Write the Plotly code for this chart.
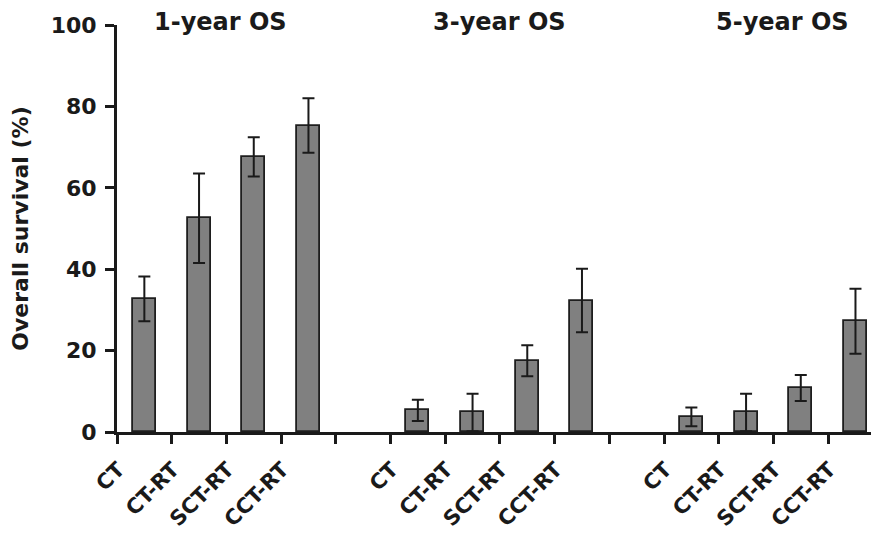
import plotly.graph_objects as go

groups = ["1-year OS", "3-year OS", "5-year OS"]
treatments = ["CT", "CT-RT", "SCT-RT", "CCT-RT"]
os1 = [32.7, 52.5, 67.6, 75.3]
err1 = [5.5, 11.0, 4.8, 6.7]
os3 = [5.3, 4.8, 17.5, 32.3]
err3 = [2.6, 4.6, 3.8, 7.8]
os5 = [3.7, 4.8, 10.8, 27.2]
err5 = [2.3, 4.6, 3.2, 8.0]
y_ticks = [0, 20, 40, 60, 80, 100]

FONT = "DejaVu Sans"
INK = "#1a1a1a"

values = os1 + os3 + os5
errors = err1 + err3 + err5
# positions: 4 bars, one empty slot, 4 bars, one empty slot, 4 bars
xpos = []
for g in range(3):
    for i in range(4):
        xpos.append(g * 5 + i)
labels = treatments * 3
boundaries = [p - 0.5 for p in range(14)]

fig = go.Figure()
fig.add_trace(go.Bar(
    x=xpos, y=values, width=0.42,
    marker=dict(color="#808080", line=dict(color="#1e1e1e", width=1.8)),
    error_y=dict(type="data", array=errors, visible=True, color=INK, thickness=2, width=6),
    showlegend=False,
))
# invisible trace on xaxis2 for the labels
fig.add_trace(go.Scatter(x=xpos, y=values, xaxis="x2", mode="markers",
                         marker=dict(opacity=0), hoverinfo="skip", showlegend=False))

title_x = [1.40, 6.49, 11.66]
for gx, gt in zip(title_x, groups):
    fig.add_annotation(x=gx, y=1.008, xref="x", yref="paper", text=gt, showarrow=False,
                       yanchor="middle", xanchor="center",
                       font=dict(family=FONT, size=24, color=INK, weight="bold"))

# page body has an 8px margin, so the figure is offset by 8px in the screenshot
xr = [-0.5, 13.43]
fig.update_layout(
    width=871, height=539,
    margin=dict(l=109, r=0, t=17, b=115, autoexpand=False),
    plot_bgcolor="white", paper_bgcolor="white",
    xaxis=dict(range=xr, tickvals=boundaries, showticklabels=False, automargin=False,
               ticks="outside", ticklen=9, tickwidth=3, tickcolor=INK,
               showline=True, linewidth=3, linecolor=INK, showgrid=False, zeroline=False),
    xaxis2=dict(range=xr, overlaying="x", side="bottom", tickvals=xpos, ticktext=labels,
                automargin=False,
                tickangle=-45, ticks="", showline=False, showgrid=False, zeroline=False,
                ticklabelstandoff=20, ticklabelshift=-26,
                tickfont=dict(family=FONT, size=21, color=INK, weight="bold")),
    yaxis=dict(range=[0, 100], tickvals=y_ticks, ticks="outside", ticklen=9, tickwidth=3,
               automargin=False,
               tickcolor=INK, showline=True, linewidth=3, linecolor=INK, showgrid=False,
               zeroline=False, ticklabelstandoff=4,
               tickfont=dict(family=FONT, size=22, color=INK, weight="bold"),
               title=dict(text="Overall survival (%)", standoff=18,
                          font=dict(family=FONT, size=22, color=INK, weight="bold"))),
    bargap=0,
)
fig.write_html("out.html")
